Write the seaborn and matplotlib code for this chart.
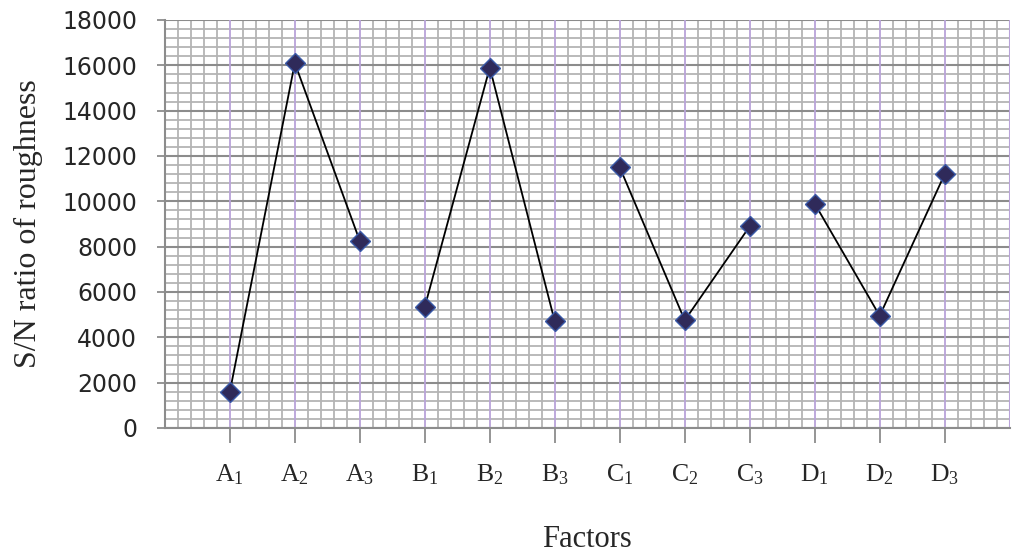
import matplotlib
matplotlib.use("Agg")
import matplotlib.pyplot as plt
import seaborn as sns
import pandas as pd
import numpy as np
from matplotlib.ticker import MultipleLocator

# Data
factors = ["A", "A", "A", "B", "B", "B", "C", "C", "C", "D", "D", "D"]
levels = [1, 2, 3, 1, 2, 3, 1, 2, 3, 1, 2, 3]
sn_ratio = [1600, 16100, 8250, 5350, 15900, 4700,
            11500, 4750, 8900, 9900, 4950, 11200]
tick_labels = ["A$_1$", "A$_2$", "A$_3$", "B$_1$", "B$_2$", "B$_3$",
               "C$_1$", "C$_2$", "C$_3$", "D$_1$", "D$_2$", "D$_3$"]

df = pd.DataFrame({"factor": factors, "level": levels, "sn": sn_ratio})
df["pos"] = np.arange(1, len(df) + 1)

sns.set_style("white")
plt.rcParams["mathtext.default"] = "regular"

fig = plt.figure(figsize=(10.24, 5.57), dpi=100)
ax = fig.add_axes([0.161, 0.2316, 0.825, 0.7325])

# grid first so the line sits on top
ax.set_xlim(0, 13)
ax.set_ylim(0, 18000)
ax.xaxis.set_minor_locator(MultipleLocator(0.2))
ax.yaxis.set_major_locator(MultipleLocator(2000))
ax.yaxis.set_minor_locator(MultipleLocator(400))
ax.grid(which="minor", color="#b4b4b4", linewidth=1.3)
ax.grid(which="major", axis="y", color="#8c8c8c", linewidth=1.5)
ax.set_axisbelow(True)
for p in df["pos"]:
    ax.axvline(p, color="#b9a3d9", linewidth=1.3, zorder=1)
ax.axvline(13, color="#b9a3d9", linewidth=1.5, zorder=1)

# one line per factor, gaps between groups
for f, g in df.groupby("factor"):
    sns.lineplot(data=g, x="pos", y="sn", ax=ax, color="black", linewidth=1.3,
                 marker="D", markersize=10, markerfacecolor="#2f2a5a",
                 markeredgecolor="#3a5aa8", markeredgewidth=1.0, zorder=3)

ax.set_xticks(df["pos"])
ax.set_xticklabels(tick_labels, family="Liberation Serif", fontsize=18.5)
ax.tick_params(axis="x", which="major", length=11, width=1.3, color="#8c8c8c",
               pad=14, bottom=True)
ax.tick_params(axis="x", which="minor", length=0)
ax.tick_params(axis="y", which="major", length=6, width=1.3, color="#8c8c8c",
               labelsize=17, pad=14, left=True)
ax.tick_params(axis="y", which="minor", length=0)
for lab in ax.get_yticklabels():
    lab.set_family("DejaVu Sans")

for side in ["top", "right"]:
    ax.spines[side].set_visible(False)
for side in ["left", "bottom"]:
    ax.spines[side].set_color("#8c8c8c")
    ax.spines[side].set_linewidth(1.5)

ax.set_xlabel("Factors", family="Liberation Serif", fontsize=22, labelpad=27)
ax.set_ylabel("S/N ratio of roughness", family="Liberation Serif", fontsize=23,
              labelpad=14)

fig.savefig("out.png", dpi=100)
